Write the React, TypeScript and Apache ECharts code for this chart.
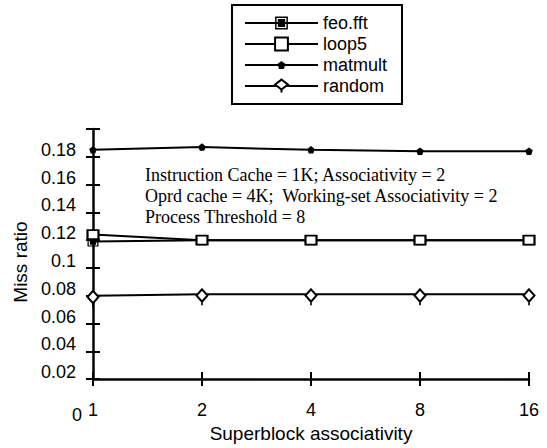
import React, { useEffect, useRef } from "react";
import * as echarts from "echarts";

const categories = ["1", "2", "4", "8", "16"];
const feoFft = [0.119, 0.12, 0.12, 0.12, 0.12];
const loop5 = [0.124, 0.12, 0.12, 0.12, 0.12];
const matmult = [0.185, 0.187, 0.185, 0.184, 0.184];
const random = [0.08, 0.081, 0.081, 0.081, 0.081];
const seriesNames = ["feo.fft", "loop5", "matmult", "random"];
const yMin = 0.02;
const yMax = 0.2;
const yStep = 0.02;
const zeroLabel = "0";
const noteLines = [
  "Instruction Cache = 1K; Associativity = 2",
  "Oprd cache = 4K;  Working-set Associativity = 2",
  "Process Threshold = 8",
];

const SANS = "'Liberation Sans', Arial, Helvetica, sans-serif";
const SERIF = "'Liberation Serif', 'Times New Roman', serif";

const filledSquare =
  "path://M0 0H14V16H0Z M1.6 1.6V14.4H12.4V1.6Z M3 3H11V13H3Z";
const pentagon = "path://M-3 -3M13 13M5 0L10 3.8L8 10L2 10L0 3.8Z";
const tailDiamond = "path://M6 0L12 7L6 14L0 7Z M6 14L6 18";

export default function App() {
  const ref = useRef<HTMLDivElement>(null);

  useEffect(() => {
    if (!ref.current) return;
    const chart = echarts.init(ref.current, null, { renderer: "svg" });
    const black = "#000";
    const lineStyle = { color: black, width: 2 };
    const option: any = {
      animation: false,
      backgroundColor: "#fff",
      textStyle: { fontFamily: SANS, color: black },
      grid: { left: 93, right: 18, top: 129, bottom: 58, containLabel: false },
      legend: {
        orient: "vertical",
        left: 232,
        top: 5,
        itemWidth: 73,
        itemHeight: 16,
        itemGap: 3,
        padding: [9, 15, 9, 12],
        borderColor: black,
        borderWidth: 2,
        borderRadius: 0,
        textStyle: { fontSize: 18, color: black, fontFamily: SANS },
        data: seriesNames,
      },
      xAxis: [
        {
          type: "category",
          data: categories,
          boundaryGap: false,
          position: "bottom",
          name: "Superblock associativity",
          nameLocation: "middle",
          nameGap: 36,
          nameTextStyle: { fontSize: 19, color: black, fontFamily: SANS },
          axisLine: { show: true, lineStyle: { color: black, width: 2.5 } },
          axisTick: { show: true, length: 7, lineStyle: { color: black, width: 2 } },
          axisLabel: { fontSize: 18, color: black, margin: 22, fontFamily: SANS },
          splitLine: { show: false },
        },
        {
          type: "category",
          data: categories,
          boundaryGap: false,
          position: "bottom",
          axisLine: { show: false },
          axisTick: { show: true, inside: true, length: 7, lineStyle: { color: black, width: 2 } },
          axisLabel: { show: false },
          splitLine: { show: false },
        },
      ],
      yAxis: [
        {
          type: "value",
          min: yMin,
          max: yMax,
          interval: yStep,
          position: "left",
          name: "Miss ratio",
          nameLocation: "middle",
          nameGap: 56,
          nameTextStyle: {
            fontSize: 19,
            color: black,
            fontFamily: SANS,
            padding: [0, 16, 0, 0],
          },
          axisLine: { show: true, lineStyle: { color: black, width: 2.5 } },
          axisTick: { show: true, length: 7, lineStyle: { color: black, width: 2 } },
          axisLabel: {
            fontSize: 18,
            color: black,
            margin: 17,
            fontFamily: SANS,
            verticalAlign: "bottom",
            lineHeight: 14,
            formatter: (v: number) => (v > yMax - yStep / 2 ? "" : String(+v.toFixed(2))),
          },
          splitLine: { show: false },
        },
        {
          type: "value",
          min: yMin,
          max: yMax,
          interval: yStep,
          position: "left",
          axisLine: { show: false },
          axisTick: { show: true, inside: true, length: 7, lineStyle: { color: black, width: 2 } },
          axisLabel: { show: false },
          splitLine: { show: false },
        },
      ],
      graphic: [
        {
          type: "text",
          x: 82,
          y: 415,
          style: {
            text: zeroLabel,
            fill: black,
            font: `18px ${SANS}`,
            textAlign: "right",
            textVerticalAlign: "middle",
          },
        },
        {
          type: "text",
          x: 145,
          y: 164,
          style: {
            text: noteLines.join("\n"),
            fill: black,
            font: `18px ${SERIF}`,
            lineHeight: 21,
            textAlign: "left",
            textVerticalAlign: "top",
          },
        },
      ],
      series: [
        {
          name: "feo.fft",
          type: "line",
          data: feoFft,
          symbol: filledSquare,
          symbolSize: [11, 10],
          lineStyle,
          itemStyle: { color: black },
          z: 2,
        },
        {
          name: "loop5",
          type: "line",
          data: loop5,
          symbol: "rect",
          symbolSize: [11, 9],
          lineStyle,
          itemStyle: { color: "#fff", borderColor: black, borderWidth: 2 },
          z: 3,
        },
        {
          name: "matmult",
          type: "line",
          data: matmult,
          symbol: pentagon,
          symbolSize: 12,
          lineStyle,
          itemStyle: { color: black },
          z: 4,
        },
        {
          name: "random",
          type: "line",
          data: random,
          symbol: tailDiamond,
          symbolSize: [11, 16],
          symbolOffset: [0, 3],
          lineStyle,
          itemStyle: { color: "#fff", borderColor: black, borderWidth: 2 },
          z: 5,
        },
      ],
    };
    chart.setOption(option);
    return () => chart.dispose();
  }, []);

  return (
    <div
      ref={ref}
      style={{ position: "fixed", left: 0, top: 0, width: 547, height: 448, background: "#fff" }}
    />
  );
}
